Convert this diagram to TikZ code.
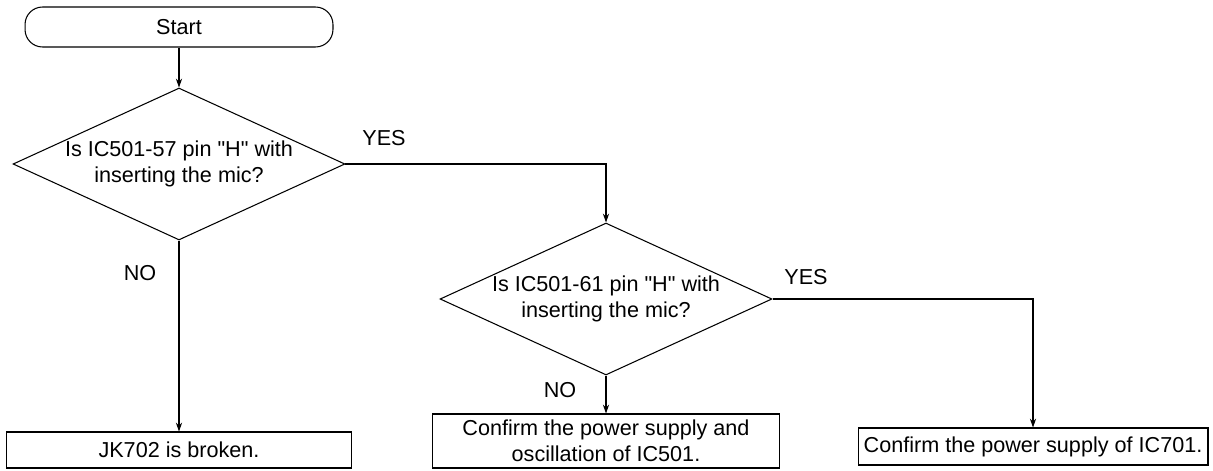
\documentclass[tikz,border=0pt]{standalone}
\usepackage{fontspec}
\setmainfont{Liberation Sans}
\usetikzlibrary{shapes.geometric,arrows.meta}

\tikzset{
  startbox/.style={draw, rounded corners=0.35cm, minimum width=6.16cm, minimum height=0.8cm, inner sep=0pt},
  decision/.style={draw, diamond, shape aspect=2.2, minimum width=6.64cm, minimum height=3.04cm, inner sep=0pt, align=center},
  resultbox/.style={draw, minimum width=#1, inner sep=2pt, align=center},
}

\begin{document}
\begin{tikzpicture}[>={Stealth[length=5pt,width=3.5pt]}, x=0.02cm, y=-0.02cm, line width=0.6pt,
  every node/.style={font=\fontsize{12.3}{14.5}\selectfont}]
    \useasboundingbox (0,0) rectangle (1213,470);

    % Flow boxes
    \node[startbox] (start) at (179,27) {Start};
    \node[decision] (dec1) at (179,164) {Is IC501-57 pin \textquotedbl H\textquotedbl{} with\\inserting the mic?};
    \node[decision] (dec2) at (606,299) {Is IC501-61 pin \textquotedbl H\textquotedbl{} with\\inserting the mic?};
    \node[resultbox=6.92cm, minimum height=0.72cm] (res1) at (179,450) {JK702 is broken.};
    \node[resultbox=6.94cm, minimum height=1.08cm] (res2) at (606,441) {Confirm the power supply and\\oscillation of IC501.};
    \node[resultbox=7.0cm, minimum height=0.74cm] (res3) at (1033,446.5) {Confirm the power supply of IC701.};

    % Connectors
    \draw[->] (start) -- (dec1);
    \draw[->] (dec1.east) -| (dec2.north);
    \draw[->] (dec1.south) -- (res1.north);
    \draw[->] (dec2.east) -| (res3.north);
    \draw[->] (dec2.south) -- (res2.north);

    % Branch labels
    \node (yes1) at (384,138) {YES};
    \node (no1) at (140,273) {NO};
    \node (yes2) at (806,277) {YES};
    \node (no2) at (560,390) {NO};
\end{tikzpicture}
\end{document}
